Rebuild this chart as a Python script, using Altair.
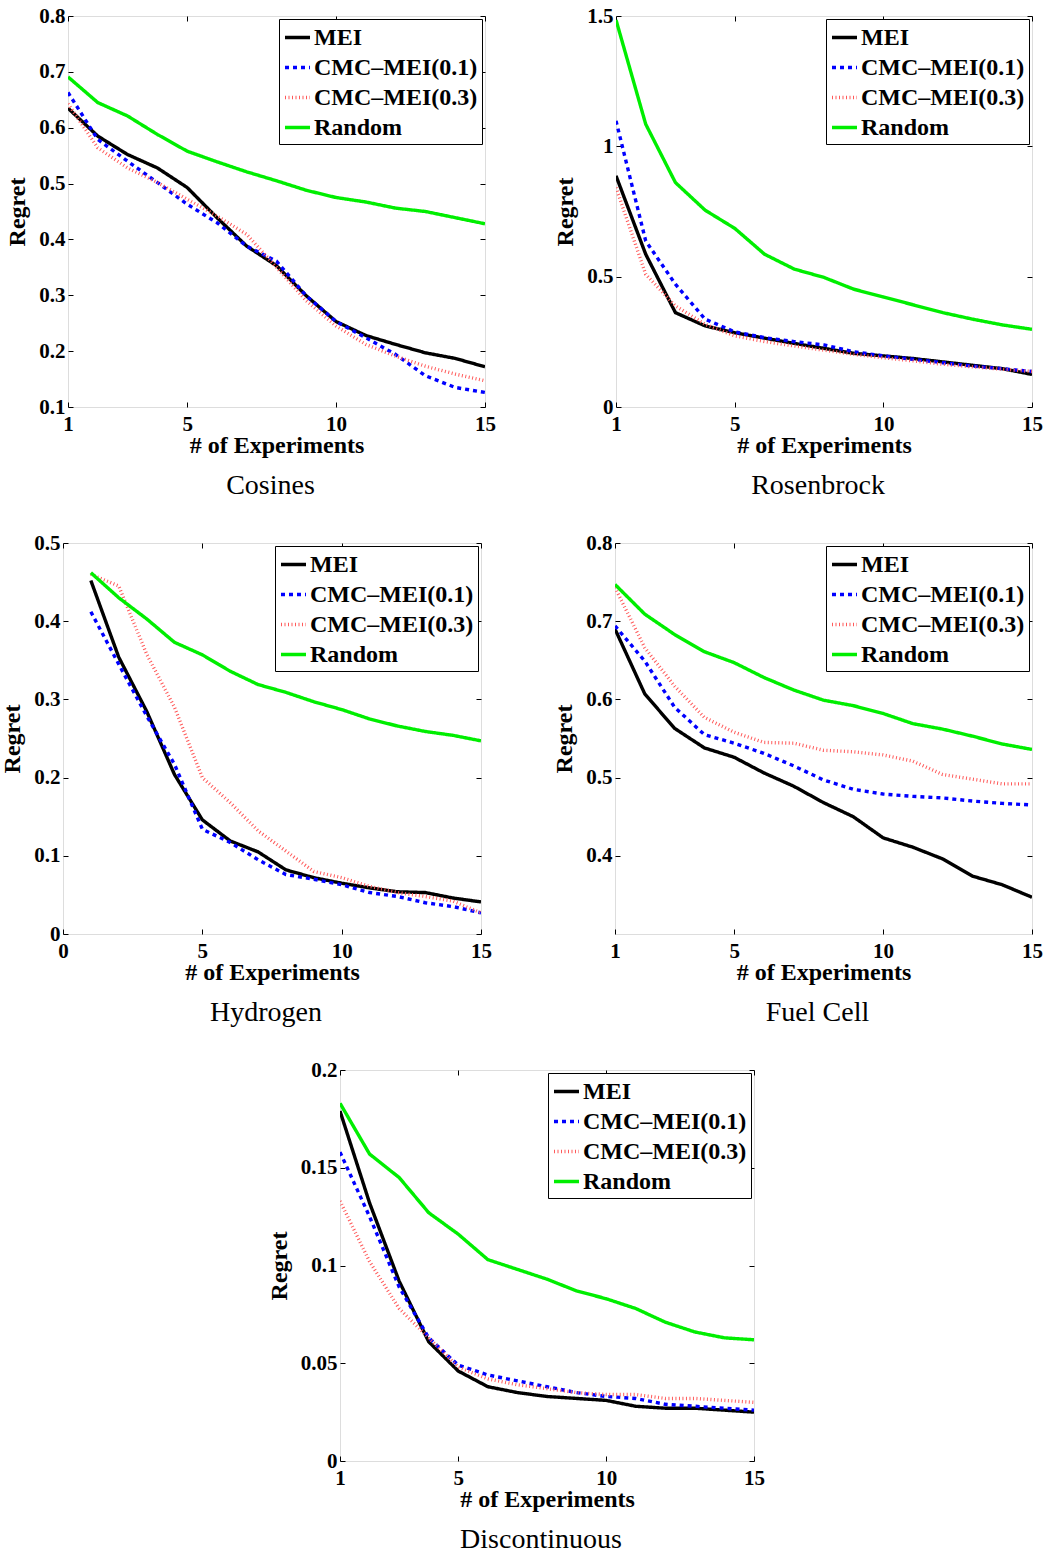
import altair as alt
import pandas as pd

SERIES = ["MEI", "CMC–MEI(0.1)", "CMC–MEI(0.3)", "Random"]
COLORS = ["#000000", "#0000ff", "#ff5a5a", "#00ee00"]
DASHES = [[1, 0], [4, 4], [1, 2.5], [1, 0]]

# Cosines
cos_mei = [0.635, 0.585, 0.552, 0.528, 0.493, 0.439, 0.388, 0.353, 0.299, 0.253, 0.228, 0.212, 0.197, 0.187, 0.172]
cos_cmc1 = [0.663, 0.579, 0.540, 0.502, 0.463, 0.430, 0.388, 0.361, 0.299, 0.253, 0.224, 0.194, 0.156, 0.135, 0.126]
cos_cmc3 = [0.643, 0.564, 0.528, 0.502, 0.472, 0.442, 0.409, 0.350, 0.290, 0.245, 0.212, 0.191, 0.173, 0.159, 0.147]
cos_rand = [0.691, 0.645, 0.621, 0.588, 0.558, 0.539, 0.521, 0.505, 0.488, 0.475, 0.467, 0.456, 0.450, 0.439, 0.428]

# Rosenbrock
ros_mei = [0.887, 0.586, 0.362, 0.311, 0.285, 0.264, 0.244, 0.225, 0.206, 0.196, 0.186, 0.173, 0.160, 0.147, 0.125]
ros_cmc1 = [1.098, 0.637, 0.471, 0.337, 0.288, 0.266, 0.251, 0.238, 0.212, 0.196, 0.183, 0.170, 0.157, 0.147, 0.136]
ros_cmc3 = [0.842, 0.509, 0.388, 0.317, 0.273, 0.251, 0.234, 0.218, 0.202, 0.189, 0.177, 0.164, 0.154, 0.145, 0.136]
ros_rand = [1.485, 1.085, 0.861, 0.755, 0.685, 0.586, 0.529, 0.497, 0.452, 0.422, 0.392, 0.362, 0.337, 0.315, 0.298]

# Hydrogen
hyd_mei = [0.452, 0.354, 0.285, 0.204, 0.146, 0.119, 0.105, 0.082, 0.072, 0.065, 0.059, 0.054, 0.053, 0.046, 0.041]
hyd_cmc1 = [0.412, 0.345, 0.279, 0.217, 0.134, 0.117, 0.095, 0.076, 0.070, 0.063, 0.053, 0.048, 0.040, 0.035, 0.027]
hyd_cmc3 = [0.460, 0.445, 0.358, 0.290, 0.200, 0.168, 0.132, 0.106, 0.080, 0.072, 0.061, 0.053, 0.048, 0.042, 0.027]
hyd_rand = [0.462, 0.430, 0.403, 0.373, 0.357, 0.336, 0.319, 0.309, 0.297, 0.287, 0.275, 0.266, 0.259, 0.254, 0.247]

# Fuel Cell
fuel_mei = [0.690, 0.607, 0.563, 0.538, 0.526, 0.506, 0.489, 0.468, 0.450, 0.423, 0.411, 0.396, 0.374, 0.363, 0.347]
fuel_cmc1 = [0.694, 0.649, 0.590, 0.555, 0.544, 0.531, 0.515, 0.497, 0.485, 0.479, 0.476, 0.474, 0.470, 0.467, 0.465]
fuel_cmc3 = [0.743, 0.666, 0.617, 0.577, 0.558, 0.545, 0.544, 0.535, 0.533, 0.529, 0.521, 0.504, 0.498, 0.492, 0.492]
fuel_rand = [0.747, 0.709, 0.683, 0.661, 0.647, 0.628, 0.612, 0.599, 0.592, 0.582, 0.569, 0.562, 0.553, 0.543, 0.536]

# Discontinuous
dis_mei = [0.179, 0.132, 0.092, 0.061, 0.046, 0.038, 0.035, 0.033, 0.032, 0.031, 0.028, 0.027, 0.027, 0.026, 0.025]
dis_cmc1 = [0.158, 0.125, 0.089, 0.063, 0.049, 0.044, 0.041, 0.038, 0.035, 0.033, 0.032, 0.029, 0.028, 0.027, 0.026]
dis_cmc3 = [0.133, 0.102, 0.078, 0.063, 0.048, 0.042, 0.039, 0.037, 0.035, 0.034, 0.034, 0.032, 0.032, 0.031, 0.030]
dis_rand = [0.183, 0.157, 0.145, 0.127, 0.116, 0.103, 0.098, 0.093, 0.087, 0.083, 0.078, 0.071, 0.066, 0.063, 0.062]

experiments = list(range(1, 16))

SERIF = "Liberation Serif"
H = 391


def legend():
    return alt.Legend(
        title=None, orient="top-right", offset=3, symbolType="stroke", symbolSize=625,
        symbolStrokeWidth=3.4, labelFont=SERIF, labelFontSize=24, labelFontWeight="bold",
        labelColor="black", strokeColor="black", fillColor="white", padding=4, rowPadding=3,
        labelOffset=2, cornerRadius=0, labelLimit=400,
    )


def make_panel(title, vals, xdom, xticks, ydom, yticks, width):
    rows = []
    for s, series_vals in zip(SERIES, vals):
        for xv, yv in zip(experiments, series_vals):
            rows.append({"x": xv, "y": yv, "series": s})
    df = pd.DataFrame(rows)
    xscale = alt.Scale(domain=xdom, nice=False, zero=False)
    yscale = alt.Scale(domain=ydom, nice=False, zero=False)
    xaxis = alt.Axis(
        values=xticks, title="# of Experiments", format="~g", labelFlush=False, labelOverlap=False,
        domain=False, grid=False, tickSize=5, offset=-5, tickColor="black", tickWidth=1,
        labelFont=SERIF, labelFontSize=21, labelFontWeight="bold", labelColor="black", labelPadding=6,
        titleFont=SERIF, titleFontSize=24, titleFontWeight="bold", titleColor="black", titlePadding=-1,
    )
    yaxis = alt.Axis(
        values=yticks, title="Regret", format="~g", labelFlush=False, labelOverlap=False,
        domain=False, grid=False, tickSize=5, offset=-5, tickColor="black", tickWidth=1,
        labelFont=SERIF, labelFontSize=21, labelFontWeight="bold", labelColor="black", labelPadding=3,
        titleFont=SERIF, titleFontSize=24, titleFontWeight="bold", titleColor="black", titlePadding=9,
    )
    lines = alt.Chart(df).mark_line(strokeWidth=3.4, clip=True, strokeCap="butt").encode(
        x=alt.X("x:Q", scale=xscale, axis=xaxis),
        y=alt.Y("y:Q", scale=yscale, axis=yaxis),
        color=alt.Color("series:N", scale=alt.Scale(domain=SERIES, range=COLORS), legend=legend()),
        strokeDash=alt.StrokeDash("series:N", scale=alt.Scale(domain=SERIES, range=DASHES), legend=legend()),
    )
    ticks = alt.Chart(df).mark_point(opacity=0).encode(
        x=alt.X("x:Q", scale=xscale, axis=alt.Axis(orient="top", values=xticks, labels=False, domain=False,
                                                   grid=False, tickSize=5, offset=-5, title=None,
                                                   tickColor="black")),
        y=alt.Y("y:Q", scale=yscale, axis=alt.Axis(orient="right", values=yticks, labels=False, domain=False,
                                                   grid=False, tickSize=5, offset=-5, title=None,
                                                   tickColor="black")),
    )
    return alt.layer(lines, ticks).resolve_axis(x="independent", y="independent").properties(
        width=width, height=H,
        title=alt.TitleParams(title, orient="bottom", font=SERIF, fontSize=28, fontWeight="normal",
                              color="black", offset=15, frame="group", anchor="middle", dx=-6),
    )


def spacer(w):
    return alt.Chart(pd.DataFrame({"a": [0]})).mark_point(opacity=0).encode(
        x=alt.X("a:Q", axis=None), y=alt.Y("a:Q", axis=None)
    ).properties(width=w, height=H, view=alt.ViewBackground(stroke=None))


p1 = make_panel("Cosines", [cos_mei, cos_cmc1, cos_cmc3, cos_rand], [1, 15], [1, 5, 10, 15],
                [0.1, 0.8], [0.1, 0.2, 0.3, 0.4, 0.5, 0.6, 0.7, 0.8], 417)
p2 = make_panel("Rosenbrock", [ros_mei, ros_cmc1, ros_cmc3, ros_rand], [1, 15], [1, 5, 10, 15],
                [0, 1.5], [0, 0.5, 1, 1.5], 416)
p3 = make_panel("Hydrogen", [hyd_mei, hyd_cmc1, hyd_cmc3, hyd_rand], [0, 15], [0, 5, 10, 15],
                [0, 0.5], [0, 0.1, 0.2, 0.3, 0.4, 0.5], 418)
p4 = make_panel("Fuel Cell", [fuel_mei, fuel_cmc1, fuel_cmc3, fuel_rand], [1, 15], [1, 5, 10, 15],
                [0.3, 0.8], [0.4, 0.5, 0.6, 0.7, 0.8], 417)
p5 = make_panel("Discontinuous", [dis_mei, dis_cmc1, dis_cmc3, dis_rand], [1, 15], [1, 5, 10, 15],
                [0, 0.2], [0, 0.05, 0.1, 0.15, 0.2], 414)

IND = dict(color="independent", strokeDash="independent")

row1 = alt.hconcat(
    spacer(5),
    alt.hconcat(p1, p2, spacing=131, bounds="flush").resolve_scale(**IND),
    spacing=0, bounds="flush",
).resolve_scale(**IND)
row2 = alt.hconcat(p3, p4, spacing=134, bounds="flush").resolve_scale(**IND)
row3 = alt.hconcat(spacer(277), p5, spacing=0, bounds="flush").resolve_scale(**IND)

# nested concats count as zero-height under flush bounds, so the spacing carries the row height
chart = alt.vconcat(row1, row2, row3, spacing=H + 136, bounds="flush").resolve_scale(**IND).properties(
    padding={"left": 0, "top": 4, "right": 5, "bottom": 5}
).configure_view(stroke="black", strokeWidth=1.2).configure(background="white")

chart.save("out.html", embed_options={"renderer": "svg", "actions": False})
